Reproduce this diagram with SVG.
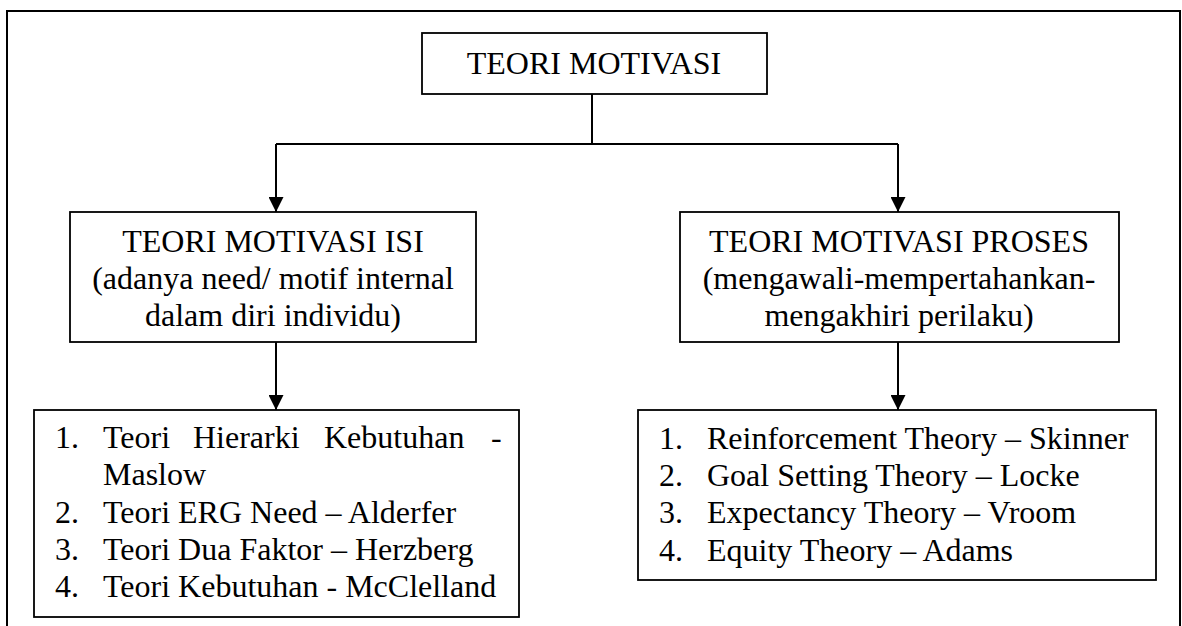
<svg xmlns="http://www.w3.org/2000/svg" width="1182" height="626" viewBox="0 0 1182 626">
<style>
.box{fill:#fff;stroke:#000;stroke-width:1.8}
.frame{fill:none;stroke:#000;stroke-width:2}
.conn{fill:none;stroke:#000;stroke-width:2}
text{font-family:"Liberation Serif","Times New Roman",serif;font-size:32px;fill:#000}
.c{text-anchor:middle}
</style>
<defs>
<marker id="arr" markerUnits="userSpaceOnUse" markerWidth="15" markerHeight="15" refX="15" refY="7.5" orient="auto">
<path d="M0,0 L15,7.5 L0,15 z" fill="#000"/>
</marker>
</defs>
<rect class="frame" x="7" y="11" width="1173" height="700"/>
<g id="connectors">
<path class="conn" d="M592,94 V144 M276,144 H898"/>
<path class="conn" d="M276,144 V212" marker-end="url(#arr)"/>
<path class="conn" d="M898,144 V212" marker-end="url(#arr)"/>
<path class="conn" d="M276,342 V410" marker-end="url(#arr)"/>
<path class="conn" d="M898,342 V410" marker-end="url(#arr)"/>
</g>
<g id="node-root">
<rect class="box" x="422" y="33" width="345" height="61"/>
<text class="c" x="594" y="74">TEORI MOTIVASI</text>
</g>
<g id="node-isi">
<rect class="box" x="70" y="212" width="406" height="130"/>
<text class="c" x="273" y="252">TEORI MOTIVASI ISI</text>
<text class="c" x="273" y="289">(adanya need/ motif internal</text>
<text class="c" x="273" y="326">dalam diri individu)</text>
</g>
<g id="node-proses">
<rect class="box" x="680" y="212" width="439" height="130"/>
<text class="c" x="899" y="252">TEORI MOTIVASI PROSES</text>
<text class="c" x="899" y="289">(mengawali-mempertahankan-</text>
<text class="c" x="899" y="326">mengakhiri perilaku)</text>
</g>
<g id="node-isi-list">
<rect class="box" x="34" y="410" width="485" height="207"/>
<text x="55" y="448">1.</text>
<text y="448"><tspan x="103">Teori</tspan><tspan x="193">Hierarki</tspan><tspan x="324">Kebutuhan</tspan><tspan x="491">-</tspan></text>
<text x="103" y="485">Maslow</text>
<text x="55" y="523">2.</text>
<text x="103" y="523">Teori ERG Need – Alderfer</text>
<text x="55" y="560">3.</text>
<text x="103" y="560">Teori Dua Faktor – Herzberg</text>
<text x="55" y="597">4.</text>
<text x="103" y="597">Teori Kebutuhan - McClelland</text>
</g>
<g id="node-proses-list">
<rect class="box" x="638" y="410" width="518" height="170"/>
<text x="659" y="449">1.</text>
<text x="707" y="449">Reinforcement Theory – Skinner</text>
<text x="659" y="486">2.</text>
<text x="707" y="486">Goal Setting Theory – Locke</text>
<text x="659" y="523">3.</text>
<text x="707" y="523">Expectancy Theory – Vroom</text>
<text x="659" y="561">4.</text>
<text x="707" y="561">Equity Theory – Adams</text>
</g>
</svg>
